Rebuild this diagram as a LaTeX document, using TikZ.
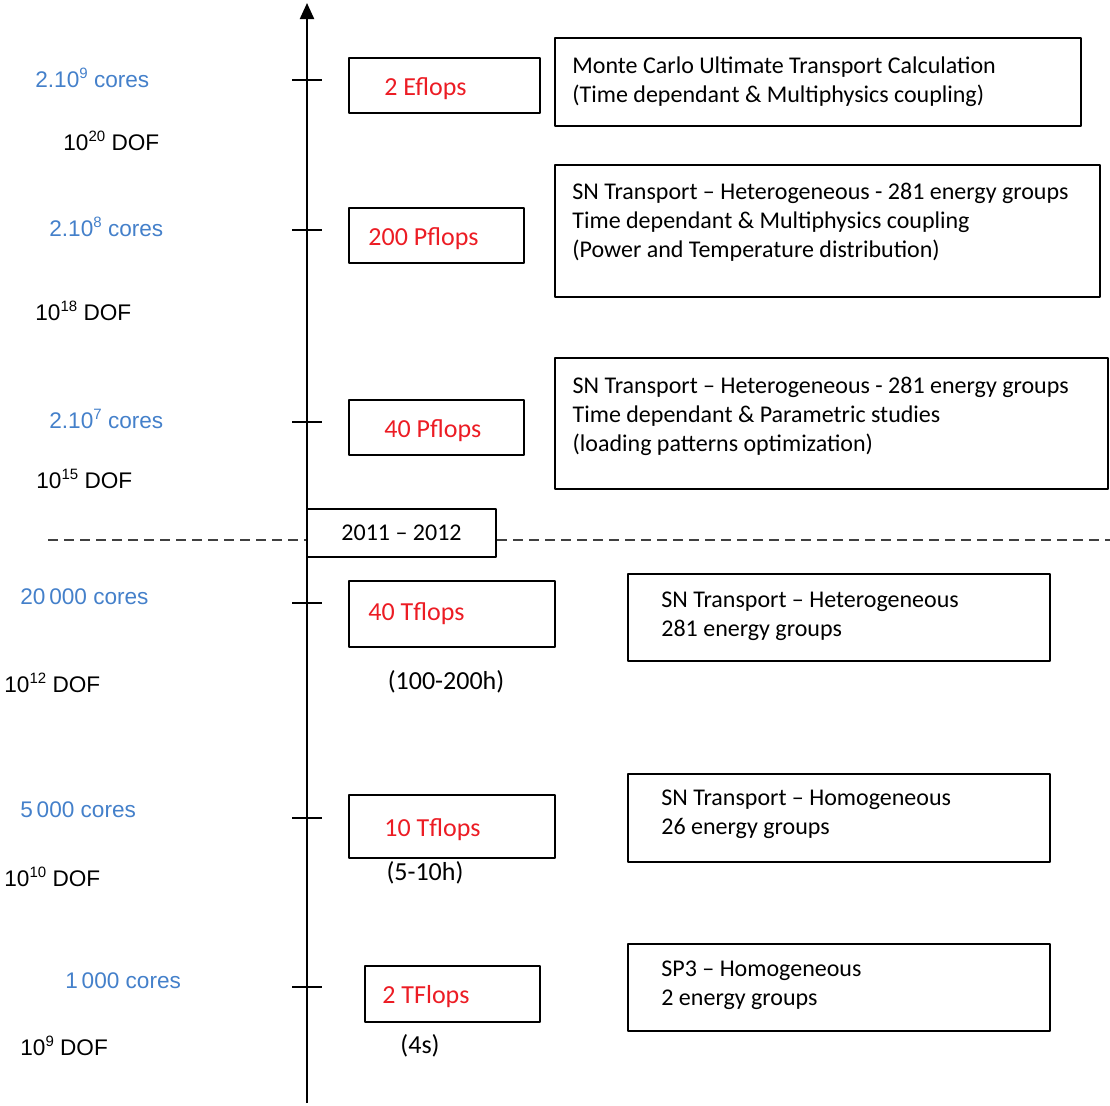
\documentclass[tikz,border=0pt]{standalone}
\usepackage{fontspec}
\setmainfont{Carlito}
\newfontfamily\arialfont{Liberation Sans}
\usetikzlibrary{positioning,arrows.meta}
\definecolor{coreblue}{RGB}{68,128,202}
\definecolor{flopred}{RGB}{236,28,36}
\newcommand{\expo}[1]{\raisebox{0.42em}{\fontsize{7.5}{8}\selectfont #1}}
\tikzset{
 box/.style={draw, line width=1pt, inner sep=0pt},
 boxtxt/.style={inner sep=0pt, align=left, font=\fontsize{12}{14.5}\selectfont},
 flops/.style={inner sep=0pt, text=flopred, yshift=-1.5pt, font=\fontsize{13}{15}\selectfont},
 cores/.style={inner sep=0pt, anchor=west, text=coreblue, font=\arialfont\fontsize{11.3}{13}\selectfont},
 dof/.style={inner sep=0pt, anchor=west, font=\arialfont\fontsize{11.3}{13}\selectfont},
 runtime/.style={inner sep=0pt, font=\fontsize{13}{15}\selectfont},
 dashline/.style={dashed, dash pattern=on 5pt off 3pt, line width=0.7pt, black!75}
}
\begin{document}
\begin{tikzpicture}[x=0.5pt,y=-0.5pt,line join=round]
 \useasboundingbox (0,0) rectangle (1110,1105);
 % time axis
 \coordinate (axbot) at (307,1103);
 \coordinate (axtop) at (307,3);
 \draw[line width=1.1pt,-{Triangle[length=8pt,width=7pt]}] (axbot) -- (axtop);
 \foreach \y in {80,230,422,603,818,987}
 \draw[line width=1pt] (292,\y) -- (322,\y);

 % performance boxes
 \node[box, minimum width=95.5pt, minimum height=27.5pt] (eflops) at (444.5,85.5) {};
 \node[flops, right=18pt of eflops.west] {2 Eflops};
 \node[box, minimum width=87.5pt, minimum height=27.5pt] (pflopsA) at (436.5,235.5) {};
 \node[flops, right=10pt of pflopsA.west] {200 Pflops};
 \node[box, minimum width=87.5pt, minimum height=27.5pt] (pflopsB) at (436.5,427.5) {};
 \node[flops, right=18pt of pflopsB.west] {40 Pflops};
 \node[box, minimum width=103pt, minimum height=33pt] (tflopsA) at (452,614) {};
 \node[flops, right=10pt of tflopsA.west, yshift=1.5pt] {40 Tflops};
 \node[box, minimum width=103pt, minimum height=31.5pt] (tflopsB) at (452,826.5) {};
 \node[flops, right=18pt of tflopsB.west] {10 Tflops};
 \node[box, minimum width=87.5pt, minimum height=28pt] (tflopsC) at (452.5,994) {};
 \node[flops, right=9pt of tflopsC.west] {2 TFlops};

 % run times
 \node[runtime] (timeA) at (446,682) {(100-200h)};
 \node[runtime] (timeB) at (425,873) {(5-10h)};
 \node[runtime] (timeC) at (420,1046) {(4s)};

 % today
 \node[box, fill=white, minimum width=94.5pt, minimum height=24pt, font=\fontsize{12}{14}\selectfont] (year) at (401.5,533) {2011 -- 2012};
 \coordinate (dashL) at (48,540);
 \coordinate (dashR) at (1110,540);
 \draw[dashline] (dashL) -- (dashL -| year.west) (dashR -| year.east) -- (dashR);

 % calculations
 \node[box, minimum width=263pt, minimum height=44pt] (mc) at (818,82) {};
 \node[boxtxt, below right=9.5pt and 9pt of mc.north west] {Monte Carlo Ultimate Transport Calculation\\(Time dependant \& Multiphysics coupling)};
 \node[box, minimum width=272.5pt, minimum height=66pt] (snA) at (827.5,231) {};
 \node[boxtxt, below right=9.5pt and 9pt of snA.north west] {SN Transport -- Heterogeneous - 281 energy groups\\Time dependant \& Multiphysics coupling\\(Power and Temperature distribution)};
 \node[box, minimum width=276.5pt, minimum height=65.5pt] (snB) at (831.75,423.5) {};
 \node[boxtxt, below right=10pt and 9pt of snB.north west] {SN Transport -- Heterogeneous - 281 energy groups\\Time dependant \& Parametric studies\\(loading patterns optimization)};
 \node[box, minimum width=211pt, minimum height=43.5pt] (snC) at (839,617.5) {};
 \node[boxtxt, below right=9.5pt and 17pt of snC.north west] {SN Transport -- Heterogeneous\\281 energy groups};
 \node[box, minimum width=211pt, minimum height=44pt] (snD) at (839,818) {};
 \node[boxtxt, below right=8.5pt and 17pt of snD.north west] {SN Transport -- Homogeneous\\26 energy groups};
 \node[box, minimum width=211pt, minimum height=43.5pt] (spthree) at (839,987.5) {};
 \node[boxtxt, below right=9pt and 17pt of spthree.north west] {SP3 -- Homogeneous\\2 energy groups};

 % machine size and degrees of freedom
 \node[cores] (coresA) at (35,78) {2.10\expo{9} cores};
 \node[dof] (dofA) at (63,141) {10\expo{20} DOF};
 \node[cores] (coresB) at (49,227) {2.10\expo{8} cores};
 \node[dof] (dofB) at (35,311) {10\expo{18} DOF};
 \node[cores] (coresC) at (49,419) {2.10\expo{7} cores};
 \node[dof] (dofC) at (36,479) {10\expo{15} DOF};
 \node[cores] (coresD) at (20,597) {20\,000 cores};
 \node[dof] (dofD) at (4,683) {10\expo{12} DOF};
 \node[cores] (coresE) at (20,810) {5\,000 cores};
 \node[dof] (dofE) at (4,877) {10\expo{10} DOF};
 \node[cores] (coresF) at (65,981) {1\,000 cores};
 \node[dof] (dofF) at (20,1046) {10\expo{9} DOF};
\end{tikzpicture}
\end{document}
